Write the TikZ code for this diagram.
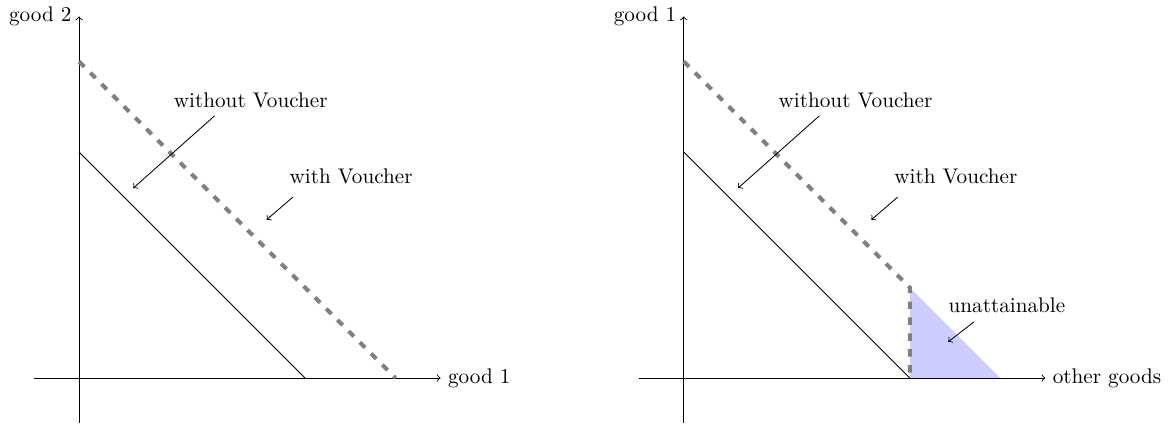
\documentclass[tikz,border=0pt]{standalone}
\begin{document}
\begin{tikzpicture}[x=0.75cm,y=0.75cm,
  axis/.style={->},
  budget/.style={black},
  voucher/.style={gray,line width=1.9pt,dash pattern=on 3.5pt off 4pt},
  pointer/.style={->},
  region/.style={fill=blue!20,draw=none}]
\useasboundingbox (-1.748,-1.062) rectangle (24.16,8.363);
% ---------- left panel ----------
\coordinate (LO) at (0,0);
\coordinate (Lxs) at (-1,0);
\coordinate (Lys) at (0,-1);
\node[anchor=west] (Lxl) at (8,0) {good 1};
\node[anchor=east] (Lyl) at (0,8) {good 2};
\draw[axis] (Lxs) -- (Lxl.west);
\draw[axis] (Lys) -- (Lyl.east);
\coordinate (Lb1) at (0,5); \coordinate (Lb2) at (5,0);
\draw[budget] (Lb1) -- (Lb2);
\coordinate (Lv1) at (0,7); \coordinate (Lv2) at (7,0);
\draw[voucher] (Lv1) -- (Lv2);
\node (Lwo) at (3.8,6.15) {without Voucher};
\coordinate (Lwoa) at (3,5.8); \coordinate (Lwob) at (1.2,4.2);
\draw[pointer] (Lwoa) -- (Lwob);
\node (Lw) at (6.02,4.45) {with Voucher};
\coordinate (Lwa) at (4.73,4); \coordinate (Lwb) at (4.15,3.5);
\draw[pointer] (Lwa) -- (Lwb);
% ---------- right panel ----------
\begin{scope}[xshift=13.38*0.75cm]
\coordinate (RO) at (0,0);
\coordinate (Rt1) at (5,2); \coordinate (Rt2) at (5,0); \coordinate (Rt3) at (7,0);
\fill[region] (Rt1) -- (Rt2) -- (Rt3) -- cycle;
\coordinate (Rxs) at (-1,0);
\coordinate (Rys) at (0,-1);
\node[anchor=west] (Rxl) at (8,0) {other goods};
\node[anchor=east] (Ryl) at (0,8) {good 1};
\draw[axis] (Rxs) -- (Rxl.west);
\draw[axis] (Rys) -- (Ryl.east);
\coordinate (Rb1) at (0,5); \coordinate (Rb2) at (5,0);
\draw[budget] (Rb1) -- (Rb2);
\coordinate (Rv1) at (0,7);
\draw[voucher] (Rv1) -- (Rt1) -- (Rt2);
\node (Rwo) at (3.8,6.15) {without Voucher};
\coordinate (Rwoa) at (3,5.8); \coordinate (Rwob) at (1.2,4.2);
\draw[pointer] (Rwoa) -- (Rwob);
\node (Rw) at (6.02,4.45) {with Voucher};
\coordinate (Rwa) at (4.73,4); \coordinate (Rwb) at (4.15,3.5);
\draw[pointer] (Rwa) -- (Rwb);
\node (Ru) at (7.15,1.6) {unattainable};
\coordinate (Rua) at (6.42,1.24); \coordinate (Rub) at (5.85,0.8);
\draw[pointer] (Rua) -- (Rub);
\end{scope}
\end{tikzpicture}
\end{document}
